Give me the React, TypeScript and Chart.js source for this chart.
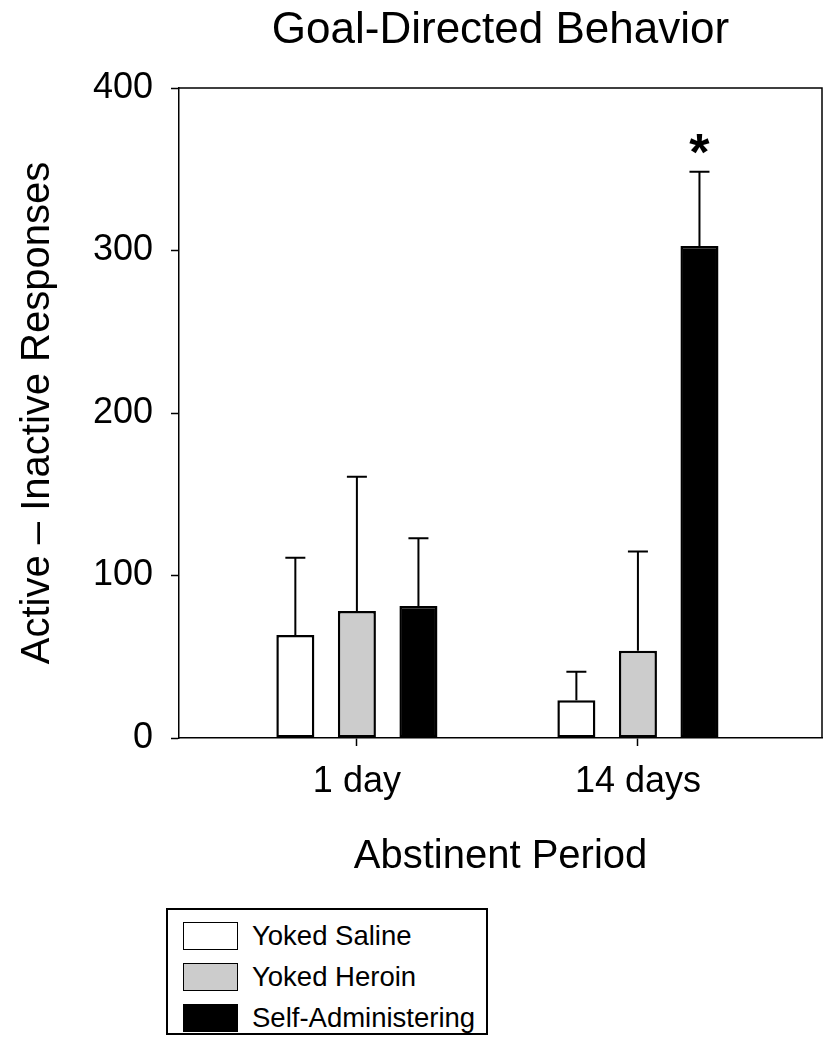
import React, { useEffect, useRef } from 'react';
import { Chart, registerables } from 'chart.js';

Chart.register(...registerables);

const FONT = '"Liberation Sans", Arial, Helvetica, sans-serif';

const chartTitle = 'Goal-Directed Behavior';
const xAxisTitle = 'Abstinent Period';
const yAxisTitle = 'Active – Inactive Responses';

const categories = ['1 day', '14 days'];
const categoryPositions = [0, 1];
const yTicks = [0, 100, 200, 300, 400];

const seriesLabels = ['Yoked Saline', 'Yoked Heroin', 'Self-Administering'];
const yokedSaline = [63.4, 23.2];
const yokedHeroin = [78.2, 53.7];
const selfAdministering = [81.2, 302.8];
const yokedSalineErr = [47.5, 17.6];
const yokedHeroinErr = [82.6, 61.0];
const selfAdministeringErr = [41.8, 45.7];

const significance = [{ series: 2, index: 1, mark: '*' }];

const seriesValues = [yokedSaline, yokedHeroin, selfAdministering];
const seriesErrors = [yokedSalineErr, yokedHeroinErr, selfAdministeringErr];
const seriesFills = ['#ffffff', '#cccccc', '#000000'];

const errorBarPlugin = {
  id: 'errorBars',
  afterDatasetsDraw(chart: any) {
    const ctx = chart.ctx;
    const yScale = chart.scales.y;
    chart.data.datasets.forEach((ds: any, di: number) => {
      const meta = chart.getDatasetMeta(di);
      meta.data.forEach((bar: any, i: number) => {
        const v = seriesValues[di][i];
        const e = seriesErrors[di][i];
        const base = yScale.getPixelForValue(v);
        const top = yScale.getPixelForValue(v + e);
        ctx.save();
        ctx.strokeStyle = '#000';
        ctx.lineWidth = 2;
        ctx.beginPath();
        ctx.moveTo(bar.x, base);
        ctx.lineTo(bar.x, top);
        ctx.moveTo(bar.x - 10, top);
        ctx.lineTo(bar.x + 10, top);
        ctx.stroke();
        ctx.restore();
      });
    });
    significance.forEach((s) => {
      const bar = chart.getDatasetMeta(s.series).data[s.index];
      const top = yScale.getPixelForValue(seriesValues[s.series][s.index] + seriesErrors[s.series][s.index]);
      ctx.save();
      ctx.fillStyle = '#000';
      ctx.font = `bold 52px ${FONT}`;
      ctx.textAlign = 'center';
      ctx.textBaseline = 'middle';
      ctx.fillText(s.mark, bar.x, top - 16);
      ctx.restore();
    });
  },
};

const frameAndTitlePlugin = {
  id: 'frameAndTitle',
  afterDraw(chart: any) {
    const { ctx, chartArea } = chart;
    ctx.save();
    ctx.strokeStyle = '#000';
    ctx.lineWidth = 1.5;
    ctx.beginPath();
    ctx.moveTo(chartArea.left, chartArea.top);
    ctx.lineTo(chartArea.right, chartArea.top);
    ctx.lineTo(chartArea.right, chartArea.bottom);
    ctx.stroke();
    ctx.fillStyle = '#000';
    ctx.font = `44px ${FONT}`;
    ctx.textAlign = 'center';
    ctx.textBaseline = 'middle';
    ctx.fillText(chartTitle, (chartArea.left + chartArea.right) / 2, 31);
    ctx.restore();
  },
};

export default function App() {
  const canvasRef = useRef<HTMLCanvasElement | null>(null);

  useEffect(() => {
    document.body.style.margin = '0';
    const canvas = canvasRef.current;
    if (!canvas) return;
    const datasets = seriesLabels.map((label, si) => ({
      label,
      data: categoryPositions.map((x, i) => ({ x, y: seriesValues[si][i] })),
      backgroundColor: seriesFills[si],
      borderColor: '#000',
      borderWidth: 2.5,
      borderSkipped: false as any,
      categoryPercentage: 0.657,
      barPercentage: 0.618,
    }));
    const chart = new Chart(canvas, {
      type: 'bar',
      data: { datasets },
      plugins: [errorBarPlugin, frameAndTitlePlugin],
      options: {
        animation: false,
        responsive: false,
        devicePixelRatio: 1,
        layout: { padding: { top: 88, right: 9, bottom: 162, left: 0 } },
        plugins: {
          legend: { display: false },
          tooltip: { enabled: false },
          title: { display: false },
        },
        scales: {
          x: {
            type: 'linear',
            min: -0.633,
            max: 1.655,
            offset: false,
            afterBuildTicks: (s: any) => {
              s.ticks = categoryPositions.map((v) => ({ value: v }));
            },
            afterFit: (s: any) => {
              s.height = 150;
            },
            ticks: {
              callback: (v: any) => {
                const i = categoryPositions.indexOf(Number(v));
                return i >= 0 ? categories[i] : '';
              },
              font: { size: 36, family: FONT },
              color: '#000',
              padding: 14,
              maxRotation: 0,
              autoSkip: false,
            },
            grid: { drawOnChartArea: false, offset: false, tickLength: 8, color: '#000', tickWidth: 1.5 },
            border: { color: '#000', width: 1.5 },
            title: {
              display: true,
              text: xAxisTitle,
              font: { size: 40, family: FONT },
              color: '#000',
              padding: { top: 0, bottom: 7 },
            },
          } as any,
          y: {
            min: 0,
            max: 400,
            afterBuildTicks: (s: any) => {
              s.ticks = yTicks.map((v) => ({ value: v }));
            },
            afterFit: (s: any) => {
              s.width = 179;
            },
            ticks: {
              font: { size: 36, family: FONT },
              color: '#000',
              padding: 18,
            },
            grid: { drawOnChartArea: false, tickLength: 8, color: '#000', tickWidth: 1.5 },
            border: { color: '#000', width: 1.5 },
            title: {
              display: true,
              text: yAxisTitle,
              font: { size: 40, family: FONT },
              color: '#000',
              padding: { top: 14, bottom: 0 },
            },
          } as any,
        },
      },
    });
    return () => chart.destroy();
  }, []);

  return (
    <div style={{ position: 'absolute', left: 0, top: 0, width: 831, height: 1050, background: '#fff' }}>
      <canvas ref={canvasRef} width={831} height={1050} style={{ display: 'block', width: 831, height: 1050 }} />
      <div
        style={{
          position: 'absolute',
          left: 166,
          top: 908,
          width: 322,
          height: 127,
          border: '2px solid #000',
          boxSizing: 'border-box',
          background: '#fff',
          fontFamily: FONT,
          color: '#000',
        }}
      >
        {seriesLabels.map((label, i) => (
          <div key={label} style={{ position: 'absolute', left: 15, top: 11 + i * 41, height: 29, display: 'flex', alignItems: 'center' }}>
            <div
              style={{
                width: 55,
                height: 28,
                background: seriesFills[i],
                border: '1.5px solid #000',
                boxSizing: 'border-box',
              }}
            />
            <span style={{ marginLeft: 14, fontSize: 27.5, lineHeight: '29px', whiteSpace: 'nowrap' }}>{label}</span>
          </div>
        ))}
      </div>
    </div>
  );
}
